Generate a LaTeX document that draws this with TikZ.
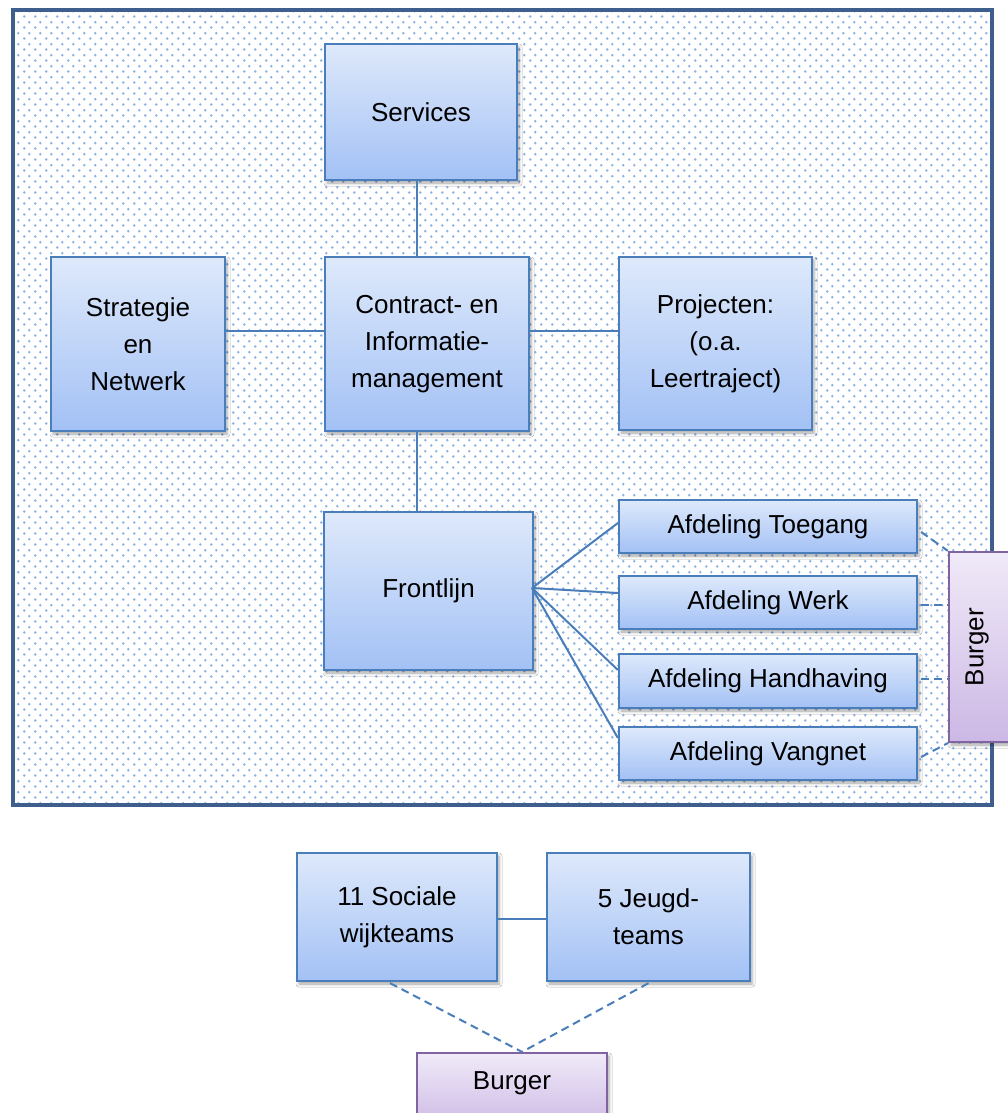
\documentclass[tikz,border=0pt]{standalone}
\usepackage{fontspec}
\setmainfont{Liberation Sans}
\usetikzlibrary{patterns,shadows.blur,calc}
\definecolor{boxtop}{RGB}{222,233,251}
\definecolor{boxbot}{RGB}{163,193,245}
\definecolor{boxline}{RGB}{74,126,187}
\definecolor{purtop}{RGB}{240,234,248}
\definecolor{purbot}{RGB}{204,184,229}
\definecolor{purline}{RGB}{128,100,162}
\definecolor{framecol}{RGB}{62,95,142}
\definecolor{dotblue}{RGB}{140,178,228}
\pgfdeclarepatternformonly{smartdots}{\pgfpointorigin}{\pgfqpoint{11pt}{10.8pt}}{\pgfqpoint{11pt}{10.8pt}}{%
  \pgfpathcircle{\pgfqpoint{2.5pt}{2.5pt}}{1.45pt}%
  \pgfpathcircle{\pgfqpoint{8pt}{7.9pt}}{1.45pt}%
  \pgfusepath{fill}}
\tikzset{
  bluebox/.style={draw=boxline, line width=2.2pt, top color=boxtop, bottom color=boxbot,
    rectangle, align=center, inner sep=0pt,
    font=\fontsize{26}{37}\selectfont,
    blur shadow={shadow xshift=2pt, shadow yshift=-3pt, shadow blur radius=3pt, shadow opacity=35}},
  purbox/.style={draw=purline, line width=2.2pt, top color=purtop, bottom color=purbot,
    rectangle, inner sep=0pt,
    blur shadow={shadow xshift=2pt, shadow yshift=-3pt, shadow blur radius=3pt, shadow opacity=35}},
  btxt/.style={font=\fontsize{26}{37}\selectfont, inner sep=0pt},
  conn/.style={draw=boxline, line width=2pt},
  dconn/.style={draw=boxline, line width=2pt, dash pattern=on 8pt off 5pt},
}
\begin{document}
\begin{tikzpicture}[x=1pt,y=-1pt]
\useasboundingbox (0,0) rectangle (1008,1113);
\clip (0,0) rectangle (1008,1113);
\fill[white] (0,0) rectangle (1008,1113);
% frame
\fill[white] (13,10) rectangle (992,805);
\fill[pattern=smartdots, pattern color=dotblue] (13,10) rectangle (992,805);
\draw[framecol, line width=4.8pt] (13,10) rectangle (992,805);
\coordinate (vline) at (417,0);
\coordinate (hline) at (0,331);
% nodes
\node[bluebox, minimum width=192pt, minimum height=136pt] (svc) at (421,112) {Services};
\node[bluebox, minimum width=174pt, minimum height=174pt] (strat) at (138,344) {Strategie\\en\\Netwerk};
\node[bluebox, minimum width=204pt, minimum height=174pt] (cim) at (427,344) {Contract- en\\Informatie-\\management};
\node[bluebox, minimum width=193pt, minimum height=173pt] (proj) at (715.5,343.5) {Projecten:\\(o.a.\\Leertraject)};
\node[bluebox, minimum width=209pt, minimum height=158pt] (front) at (428.5,591) {Frontlijn};
\node[bluebox, minimum width=298pt, minimum height=53pt] (toe) at (768,526.5) {Afdeling Toegang};
\node[bluebox, minimum width=298pt, minimum height=53pt] (werk) at (768,602.5) {Afdeling Werk};
\node[bluebox, minimum width=298pt, minimum height=54pt] (hand) at (768,681) {Afdeling Handhaving};
\node[bluebox, minimum width=298pt, minimum height=53pt] (vang) at (768,753.5) {Afdeling Vangnet};
\node[purbox, minimum width=66pt, minimum height=190pt] (burR) at (982,647) {};
\node[btxt, rotate=90] (burRtxt) at (977,647) {Burger};
\node[bluebox, minimum width=200pt, minimum height=128pt] (soc) at (397,917) {11 Sociale\\wijkteams};
\node[bluebox, minimum width=203pt, minimum height=128pt] (jeugd) at (648.5,917) {5 Jeugd-\\teams};
\node[purbox, minimum width=190pt, minimum height=77pt] (burB) at (512,1091.5) {};
\node[btxt] (burBtxt) at (512,1083) {Burger};
% connectors
\coordinate (fanS) at (532,588);
\draw[conn] (svc.south -| vline) -- (cim.north -| vline);
\draw[conn] (cim.south -| vline) -- (front.north -| vline);
\draw[conn] (strat.east |- hline) -- (cim.west |- hline);
\draw[conn] (cim.east |- hline) -- (proj.west |- hline);
\draw[conn] (fanS) -- ([yshift=3.5pt]toe.west);
\draw[conn] (fanS) -- ([yshift=9.5pt]werk.west);
\draw[conn] (fanS) -- ([yshift=11pt]hand.west);
\draw[conn] (fanS) -- ([yshift=15.5pt]vang.west);
\draw[dconn] ([xshift=3pt,yshift=-5.5pt]toe.east) -- (burR.north west);
\draw[dconn] ([xshift=3pt,yshift=-2.5pt]werk.east) -- (burR.west |- 0,605);
\draw[dconn] ([xshift=3pt,yshift=2pt]hand.east) -- (burR.west |- 0,679);
\draw[dconn] ([xshift=3pt,yshift=-3.5pt]vang.east) -- (burR.south west);
\draw[conn] (soc.east |- 0,919) -- (jeugd.west |- 0,919);
\draw[dconn] ([xshift=-7pt,yshift=-1pt]soc.south) -- ([xshift=10pt]burB.north);
\draw[dconn] ([yshift=-1pt]jeugd.south) -- ([xshift=10pt]burB.north);
\end{tikzpicture}
\end{document}
